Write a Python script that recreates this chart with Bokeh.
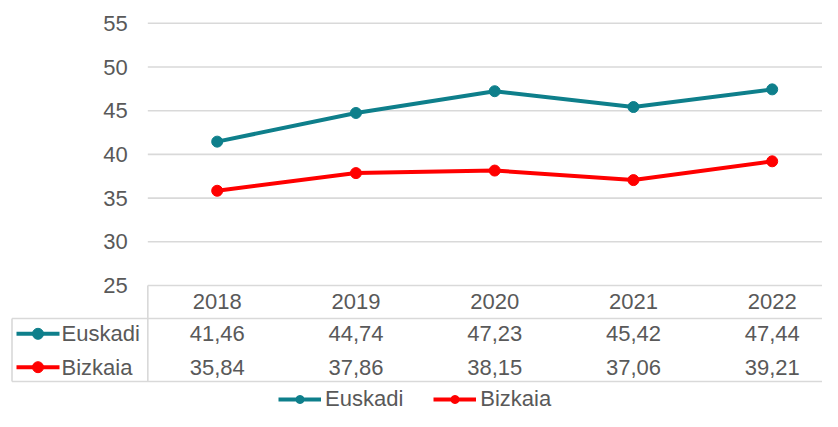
from bokeh.plotting import figure
from bokeh.models import Range1d, FixedTicker, Legend, LegendItem
from bokeh.embed import file_html
from bokeh.resources import INLINE
from bokeh.core.properties import value

# ---- data ----
years = ["2018", "2019", "2020", "2021", "2022"]
euskadi = [41.46, 44.74, 47.23, 45.42, 47.44]
bizkaia = [35.84, 37.86, 38.15, 37.06, 39.21]
series_names = ["Euskadi", "Bizkaia"]
y_ticks = [25, 30, 35, 40, 45, 50, 55]

# ---- styles ----
TEAL = "#0E7F8B"
RED = "#FF0000"
GRID = "#D9D9D9"
TXT = "#595959"
FONT = "Liberation Sans"
FS = "22px"
LW = 4
MS = 11

W, H = 822, 411
X0, DX = 216.7, 138.75        # pixel x of first category centre, band width
Y25, DY = 285.0, 8.74         # pixel y of value 25, pixels per unit
LEFT = 9                      # frame left edge in pixels


def px(xp):
    return (xp - X0) / DX


def py(yp):
    return 25 + (Y25 - yp) / DY


x_left, x_right = px(LEFT), px(W)
y_top, y_bot = py(0), py(H)

p = figure(width=W, height=H, x_range=Range1d(x_left, x_right),
           y_range=Range1d(y_bot, y_top), output_backend="svg",
           toolbar_location=None, x_axis_location=None, y_axis_location="left",
           min_border_left=LEFT, min_border_right=0, min_border_top=0,
           min_border_bottom=0, outline_line_color=None,
           background_fill_color="white", border_fill_color="white")
p.xgrid.visible = False
p.ygrid.visible = False

ax = p.yaxis[0]
ax.ticker = FixedTicker(ticks=y_ticks)
ax.fixed_location = -0.5
ax.axis_line_color = None
ax.major_tick_line_color = None
ax.minor_tick_line_color = None
ax.major_tick_in = 0
ax.major_tick_out = 0
ax.major_label_standoff = 20
ax.major_label_text_font = FONT
ax.major_label_text_font_size = FS
ax.major_label_text_color = TXT

# gridlines (and table top line at 25)
n = len(y_ticks)
p.segment(x0=[-0.5] * n, x1=[x_right] * n, y0=y_ticks, y1=y_ticks,
          line_color=GRID, line_width=1.6)

# table lines
t_left = px(11.5)
y_head = py(318)
y_bottom = py(381)
p.segment(x0=[t_left, t_left, t_left, -0.5], x1=[x_right, x_right, t_left, -0.5],
          y0=[y_head, y_bottom, y_bottom, y_bottom], y1=[y_head, y_bottom, y_head, 25],
          line_color=GRID, line_width=1.6)

xs = list(range(len(years)))
colors = [TEAL, RED]
values = [euskadi, bizkaia]
row_y = [py(333.3), py(366.7)]

items = []
for name, vals, col, ry in zip(series_names, values, colors, row_y):
    lr = p.line(xs, vals, line_color=col, line_width=LW)
    sr = p.scatter(xs, vals, size=MS, fill_color=col, line_color=col)
    items.append(LegendItem(label=name, renderers=[lr, sr]))
    # table row key
    p.segment(x0=[px(16)], x1=[px(59)], y0=[ry], y1=[ry], line_color=col, line_width=LW)
    p.scatter([px(37.5)], [ry], size=MS, fill_color=col, line_color=col)
    p.text([px(61)], [ry], text=[name], text_align="left", text_baseline="middle",
           text_font=value(FONT), text_font_size=FS, text_color=TXT)
    # table values
    p.text(xs, [ry] * len(xs), text=[f"{v:.2f}".replace(".", ",") for v in vals],
           text_align="center", text_baseline="middle",
           text_font=value(FONT), text_font_size=FS, text_color=TXT)

# header years
p.text(xs, [py(301)] * len(xs), text=years, text_align="center", text_baseline="middle",
       text_font=value(FONT), text_font_size=FS, text_color=TXT)

legend = Legend(items=items, location=(278 - LEFT, -1), orientation="horizontal",
                glyph_width=43, glyph_height=20, label_standoff=4, spacing=30,
                padding=0, margin=0, background_fill_alpha=0, border_line_color=None,
                label_text_font=FONT, label_text_font_size=FS, label_text_color=TXT)
p.add_layout(legend)

open("out.html", "w").write(file_html(p, INLINE))
